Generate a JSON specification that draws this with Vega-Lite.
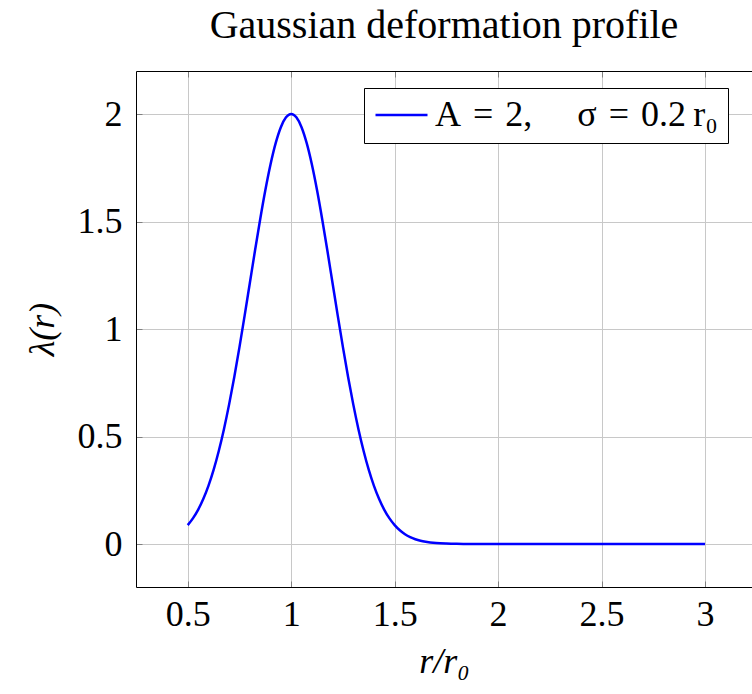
{
  "$schema": "https://vega.github.io/schema/vega-lite/v6.json",
  "width": 616,
  "height": 516,
  "autosize": {"type": "none"},
  "padding": {"left": 136, "top": 71, "right": 0, "bottom": 107},
  "background": "white",
  "title": {
    "text": "Gaussian deformation profile",
    "font": "Liberation Serif",
    "fontSize": 40,
    "fontWeight": "normal",
    "color": "black",
    "anchor": "middle",
    "offset": 25
  },
  "config": {
    "view": {"stroke": null},
    "font": "Liberation Serif"
  },
  "data": {
    "values": [
      {"r": 0.5, "lam": 0.0879},
      {"r": 0.525, "lam": 0.1192},
      {"r": 0.55, "lam": 0.159},
      {"r": 0.575, "lam": 0.2093},
      {"r": 0.6, "lam": 0.2707},
      {"r": 0.625, "lam": 0.3448},
      {"r": 0.65, "lam": 0.4326},
      {"r": 0.675, "lam": 0.5342},
      {"r": 0.7, "lam": 0.6494},
      {"r": 0.725, "lam": 0.7771},
      {"r": 0.75, "lam": 0.9157},
      {"r": 0.775, "lam": 1.0622},
      {"r": 0.8, "lam": 1.2131},
      {"r": 0.825, "lam": 1.3638},
      {"r": 0.85, "lam": 1.5096},
      {"r": 0.875, "lam": 1.6452},
      {"r": 0.9, "lam": 1.765},
      {"r": 0.925, "lam": 1.8642},
      {"r": 0.95, "lam": 1.9385},
      {"r": 0.975, "lam": 1.9844},
      {"r": 1.0, "lam": 2.0},
      {"r": 1.025, "lam": 1.9844},
      {"r": 1.05, "lam": 1.9385},
      {"r": 1.075, "lam": 1.8642},
      {"r": 1.1, "lam": 1.765},
      {"r": 1.125, "lam": 1.6452},
      {"r": 1.15, "lam": 1.5096},
      {"r": 1.175, "lam": 1.3638},
      {"r": 1.2, "lam": 1.2131},
      {"r": 1.225, "lam": 1.0622},
      {"r": 1.25, "lam": 0.9157},
      {"r": 1.275, "lam": 0.7771},
      {"r": 1.3, "lam": 0.6494},
      {"r": 1.325, "lam": 0.5342},
      {"r": 1.35, "lam": 0.4326},
      {"r": 1.375, "lam": 0.3448},
      {"r": 1.4, "lam": 0.2707},
      {"r": 1.425, "lam": 0.2093},
      {"r": 1.45, "lam": 0.159},
      {"r": 1.475, "lam": 0.1192},
      {"r": 1.5, "lam": 0.0879},
      {"r": 1.525, "lam": 0.0638},
      {"r": 1.55, "lam": 0.0456},
      {"r": 1.575, "lam": 0.0321},
      {"r": 1.6, "lam": 0.0222},
      {"r": 1.625, "lam": 0.0151},
      {"r": 1.65, "lam": 0.0102},
      {"r": 1.7, "lam": 0.0044},
      {"r": 1.75, "lam": 0.0018},
      {"r": 1.8, "lam": 0.0007},
      {"r": 1.9, "lam": 0.0001},
      {"r": 2.0, "lam": 0.0},
      {"r": 2.5, "lam": 0.0},
      {"r": 3.0, "lam": 0.0}
    ]
  },
  "layer": [
    {
      "mark": {"type": "line", "interpolate": "monotone", "strokeWidth": 2.5, "clip": true},
      "encoding": {
        "x": {
          "field": "r",
          "type": "quantitative",
          "scale": {"domain": [0.25, 3.227], "nice": false, "zero": false},
          "axis": {
            "orient": "bottom",
            "values": [0.5, 1, 1.5, 2, 2.5, 3],
            "format": "~g",
            "title": "r/r₀",
            "titleFont": "Liberation Serif",
            "titleFontStyle": "italic",
            "titleFontWeight": "normal",
            "titleFontSize": 36,
            "titleColor": "black",
            "titlePadding": 12,
            "labelFont": "Liberation Serif",
            "labelFontSize": 36,
            "labelColor": "black",
            "labelPadding": 16,
            "tickSize": -6,
            "tickColor": "#808080",
            "domainColor": "black",
            "domainWidth": 1,
            "grid": true,
            "gridColor": "#c8c8c8",
            "gridWidth": 1
          }
        },
        "y": {
          "field": "lam",
          "type": "quantitative",
          "scale": {"domain": [-0.2, 2.2], "nice": false, "zero": false},
          "axis": {
            "orient": "left",
            "values": [0, 0.5, 1, 1.5, 2],
            "format": "~g",
            "title": "λ(r)",
            "titleFont": "Liberation Serif",
            "titleFontStyle": "italic",
            "titleFontWeight": "normal",
            "titleFontSize": 36,
            "titleColor": "black",
            "titlePadding": 16,
            "labelFont": "Liberation Serif",
            "labelFontSize": 36,
            "labelColor": "black",
            "labelPadding": 20,
            "tickSize": -6,
            "tickColor": "#808080",
            "domainColor": "black",
            "domainWidth": 1,
            "grid": true,
            "gridColor": "#c8c8c8",
            "gridWidth": 1
          }
        },
        "color": {
          "datum": "A = 2,  σ = 0.2 r₀",
          "type": "nominal",
          "scale": {"range": ["#0000ff"]},
          "legend": {
            "title": null,
            "orient": "none",
            "legendX": 228,
            "legendY": 17,
            "direction": "vertical",
            "symbolType": "stroke",
            "symbolSize": 2704,
            "symbolStrokeWidth": 2.5,
            "labelFont": "Liberation Serif",
            "labelFontSize": 36,
            "labelColor": "black",
            "labelLimit": 0,
            "labelOffset": 6,
            "labelExpr": "'A\u2004=\u20042,\u2003\u2005σ\u2004=\u20040.2\u2009r₀'",
            "padding": 10,
            "clipHeight": 34,
            "strokeColor": "black",
            "fillColor": "white",
            "cornerRadius": 0
          }
        }
      }
    },
    {
      "mark": {"type": "rule", "opacity": 0},
      "encoding": {
        "x": {
          "field": "r",
          "type": "quantitative",
          "axis": {
            "orient": "top",
            "values": [0.5, 1, 1.5, 2, 2.5, 3],
            "labels": false,
            "title": null,
            "grid": false,
            "tickSize": -6,
            "tickColor": "#808080",
            "domainColor": "black",
            "domainWidth": 1
          }
        }
      }
    }
  ],
  "resolve": {"axis": {"x": "independent"}}
}
